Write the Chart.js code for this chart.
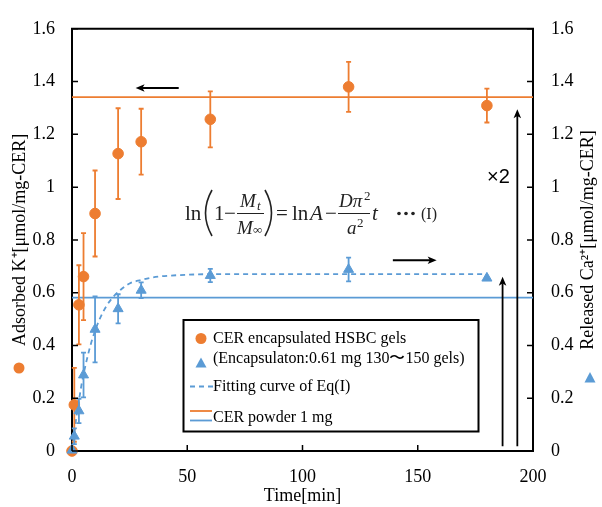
<!DOCTYPE html>
<html><head><meta charset="utf-8">
<script src="https://cdn.jsdelivr.net/npm/chart.js@4"></script>
<style>html,body{margin:0;padding:0;background:#fff}</style>
</head><body>
<canvas id="c" width="602" height="507" style="width:602px;height:507px;display:block"></canvas>
<script>
// ---- data ----
const timeK = [0, 1, 3, 5, 10, 20, 30, 60, 120, 180];
const adsorbedK = [0.0, 0.175, 0.554, 0.661, 0.900, 1.127, 1.172, 1.257, 1.380, 1.309];
const errK = [0, 0.14, 0.15, 0.165, 0.163, 0.172, 0.125, 0.106, 0.095, 0.064];
const timeCa = [0, 1, 3, 5, 10, 20, 30, 60, 120, 180];
const releasedCa = [0.003, 0.056, 0.152, 0.288, 0.461, 0.539, 0.609, 0.665, 0.688, 0.655];
const errCa = [0, 0.03, 0.046, 0.085, 0.125, 0.055, 0.03, 0.025, 0.045, 0];
const fitTime = [0, 1, 2, 3, 4, 5, 6, 8, 10, 12, 15, 18, 21, 25, 30, 35, 40, 50, 60, 80, 100, 120, 150, 180];
const fitCa = [0, 0.07, 0.135, 0.19, 0.245, 0.29, 0.33, 0.40, 0.455, 0.50, 0.55, 0.585, 0.61, 0.635, 0.648, 0.658, 0.663, 0.668, 0.67, 0.67, 0.67, 0.67, 0.67, 0.67];
const powderK = 1.341;
const powderCa = 0.581;
const xRange = [0, 200];
const xTickLabels = ['0', '50', '100', '150', '200'];
const yTickLabels = ['0', '0.2', '0.4', '0.6', '0.8', '1', '1.2', '1.4', '1.6'];
const legendLines = ['CER encapsulated HSBC gels', '(Encapsulaton:0.61 mg 130\u301C150 gels)', 'Fitting curve of Eq(I)', 'CER powder 1 mg'];
const rightTitle = 'Released Ca\u00B2\u207A[\u03BCmol/mg-CER]';

const ORANGE = '#ED7D31', BLUE = '#5B9BD5';
const SERIF = '"Liberation Serif", "Times New Roman", serif';

const pts = (xs, ys) => xs.map((x, i) => ({x: x, y: ys[i]}));

function drawErr(chart, dsIndex, errs, color) {
  const meta = chart.getDatasetMeta(dsIndex);
  const sc = chart.scales[meta.yAxisID];
  const ctx = chart.ctx;
  const data = chart.data.datasets[dsIndex].data;
  ctx.save();
  ctx.strokeStyle = color; ctx.lineWidth = 1.8;
  data.forEach((p, i) => {
    const e = errs[i]; if (!e) return;
    const px = chart.scales.x.getPixelForValue(p.x);
    const yt = sc.getPixelForValue(p.y + e), yb = sc.getPixelForValue(Math.max(0, p.y - e));
    ctx.beginPath();
    ctx.moveTo(px, yt); ctx.lineTo(px, yb);
    ctx.moveTo(px - 2.5, yt); ctx.lineTo(px + 2.5, yt);
    ctx.moveTo(px - 2.5, yb); ctx.lineTo(px + 2.5, yb);
    ctx.stroke();
  });
  ctx.restore();
}

function arrow(ctx, x1, y1, x2, y2, head, w) {
  const a = Math.atan2(y2 - y1, x2 - x1);
  const c = Math.cos(a), s = Math.sin(a);
  ctx.lineWidth = w;
  ctx.beginPath(); ctx.moveTo(x1, y1); ctx.lineTo(x2 - c * head * 0.7, y2 - s * head * 0.7); ctx.stroke();
  const hw = head * 0.42;
  ctx.beginPath();
  ctx.moveTo(x2, y2);
  ctx.lineTo(x2 - c * head - s * hw, y2 - s * head + c * hw);
  ctx.lineTo(x2 - c * head * 0.75, y2 - s * head * 0.75);
  ctx.lineTo(x2 - c * head + s * hw, y2 - s * head - c * hw);
  ctx.closePath(); ctx.fill();
}

const decor = {
  id: 'decor',
  beforeDatasetDraw(chart, args) {
    if (args.index === 0) drawErr(chart, 0, errCa, BLUE);
    if (args.index === 1) drawErr(chart, 1, errK, ORANGE);
  },
  afterDraw(chart) {
    const ctx = chart.ctx, ca = chart.chartArea;
    const xs = chart.scales.x, ys = chart.scales.y, y2 = chart.scales.y2;
    ctx.save();
    // frame top
    ctx.strokeStyle = '#000'; ctx.lineWidth = 2;
    ctx.beginPath(); ctx.moveTo(ca.left - 1, ca.top); ctx.lineTo(ca.right + 1, ca.top); ctx.stroke();
    // inward ticks
    ctx.lineWidth = 1.5;
    ctx.beginPath();
    ys.ticks.forEach(t => { const p = ys.getPixelForValue(t.value); ctx.moveTo(ca.left, p); ctx.lineTo(ca.left + 6, p); });
    y2.ticks.forEach(t => { const p = y2.getPixelForValue(t.value); ctx.moveTo(ca.right, p); ctx.lineTo(ca.right - 6, p); });
    xs.ticks.forEach(t => { const p = xs.getPixelForValue(t.value); ctx.moveTo(p, ca.bottom); ctx.lineTo(p, ca.bottom - 6); });
    ctx.stroke();

    // right axis title, reading bottom-to-top
    ctx.save();
    ctx.translate(588, (ca.top + ca.bottom) / 2);
    ctx.rotate(-Math.PI / 2);
    ctx.fillStyle = '#000'; ctx.font = '18px ' + SERIF; ctx.textAlign = 'center'; ctx.textBaseline = 'middle';
    ctx.fillText(rightTitle, 0, 0);
    ctx.restore();

    // arrows
    ctx.strokeStyle = '#000'; ctx.fillStyle = '#000';
    arrow(ctx, xs.getPixelForValue(46.3), ys.getPixelForValue(1.376), xs.getPixelForValue(27.6), ys.getPixelForValue(1.376), 9, 2);
    arrow(ctx, xs.getPixelForValue(139.2), y2.getPixelForValue(0.723), xs.getPixelForValue(158.2), y2.getPixelForValue(0.723), 9, 2);
    arrow(ctx, xs.getPixelForValue(186.8), y2.getPixelForValue(0.018), xs.getPixelForValue(186.8), y2.getPixelForValue(0.66), 9, 1.8);
    arrow(ctx, xs.getPixelForValue(193.2), ys.getPixelForValue(0.018), xs.getPixelForValue(193.2), ys.getPixelForValue(1.295), 9, 1.8);

    // ×2
    ctx.font = '20px "Liberation Sans", Arial, sans-serif';
    ctx.textBaseline = 'middle'; ctx.textAlign = 'left';
    ctx.fillText('\u00D72', 487, 177);

    // axis-title markers
    ctx.fillStyle = ORANGE;
    ctx.beginPath(); ctx.arc(19, 368, 5.5, 0, Math.PI * 2); ctx.fill();
    ctx.fillStyle = BLUE;
    ctx.beginPath(); ctx.moveTo(590, 372); ctx.lineTo(595.5, 382.5); ctx.lineTo(584.5, 382.5); ctx.closePath(); ctx.fill();

    // equation
    drawEquation(ctx);

    // legend
    const L = 183.5, T = 320, R = 478.5, B = 431.5;
    ctx.fillStyle = '#fff'; ctx.fillRect(L, T, R - L, B - T);
    ctx.strokeStyle = '#000'; ctx.lineWidth = 2; ctx.strokeRect(L, T, R - L, B - T);
    ctx.fillStyle = ORANGE;
    ctx.beginPath(); ctx.arc(201, 338.5, 5.5, 0, Math.PI * 2); ctx.fill();
    ctx.fillStyle = BLUE;
    ctx.beginPath(); ctx.moveTo(201, 357.5); ctx.lineTo(206.5, 367.5); ctx.lineTo(195.5, 367.5); ctx.closePath(); ctx.fill();
    ctx.strokeStyle = BLUE; ctx.lineWidth = 1.8; ctx.setLineDash([5, 4]);
    ctx.beginPath(); ctx.moveTo(190, 386.5); ctx.lineTo(213, 386.5); ctx.stroke();
    ctx.setLineDash([]);
    ctx.strokeStyle = ORANGE; ctx.beginPath(); ctx.moveTo(190, 411); ctx.lineTo(212, 411); ctx.stroke();
    ctx.strokeStyle = BLUE; ctx.beginPath(); ctx.moveTo(190, 420.5); ctx.lineTo(212, 420.5); ctx.stroke();
    ctx.fillStyle = '#000'; ctx.font = '16px ' + SERIF; ctx.textBaseline = 'middle'; ctx.textAlign = 'left';
    ctx.fillText(legendLines[0], 213, 338.5);
    ctx.fillText(legendLines[1], 213, 358.5);
    ctx.fillText(legendLines[2], 213, 386.5);
    ctx.fillText(legendLines[3], 213, 417.5);
    ctx.restore();
  }
};

function drawEquation(ctx) {
  ctx.save();
  ctx.fillStyle = '#222'; ctx.strokeStyle = '#222';
  ctx.textBaseline = 'alphabetic'; ctx.textAlign = 'left';
  const base = 220;
  const up = '21px ' + SERIF, it = 'italic 21px ' + SERIF;
  const fit = 'italic 19px ' + SERIF, sm = 'italic 13px ' + SERIF, smu = '13px ' + SERIF;
  ctx.font = up; ctx.fillText('ln', 185, base);
  // big parentheses
  ctx.lineWidth = 1.6;
  ctx.beginPath(); ctx.moveTo(212, 190); ctx.quadraticCurveTo(199, 213, 212, 236); ctx.stroke();
  ctx.beginPath(); ctx.moveTo(265, 190); ctx.quadraticCurveTo(278, 213, 265, 236); ctx.stroke();
  ctx.font = up; ctx.fillText('1', 214, base);
  ctx.fillText('\u2212', 224, base);
  // fraction Mt / M∞
  ctx.lineWidth = 1; ctx.beginPath(); ctx.moveTo(237, 213.5); ctx.lineTo(264, 213.5); ctx.stroke();
  ctx.font = fit; ctx.fillText('M', 240, 207); ctx.font = sm; ctx.fillText('t', 257, 210);
  ctx.font = fit; ctx.fillText('M', 237, 234); ctx.font = smu; ctx.fillText('\u221E', 253, 234);
  ctx.font = up; ctx.fillText('=', 276, base);
  ctx.fillText('ln', 292, base);
  ctx.font = it; ctx.fillText('A', 310, base);
  ctx.font = up; ctx.fillText('\u2212', 325, base);
  // fraction Dπ² / a²
  ctx.beginPath(); ctx.moveTo(338, 213.5); ctx.lineTo(370, 213.5); ctx.stroke();
  ctx.font = fit; ctx.fillText('D\u03C0', 339, 207); ctx.font = smu; ctx.fillText('2', 364, 200);
  ctx.font = fit; ctx.fillText('a', 347, 234); ctx.font = smu; ctx.fillText('2', 357, 227);
  ctx.font = it; ctx.fillText('t', 372, base);
  // dots
  [399, 406, 413].forEach(x => { ctx.beginPath(); ctx.arc(x, 213.5, 1.8, 0, Math.PI * 2); ctx.fill(); });
  ctx.font = '16px ' + SERIF; ctx.fillText('(I)', 421, 219);
  ctx.restore();
}

const tickFont = {family: SERIF, size: 18};
const titleFont = {family: SERIF, size: 18};

new Chart(document.getElementById('c'), {
  type: 'scatter',
  data: {
    datasets: [
      {label: 'Released Ca', data: pts(timeCa, releasedCa), yAxisID: 'y2', pointStyle: 'triangle', pointRadius: 5.8,
       backgroundColor: BLUE, borderColor: BLUE, borderWidth: 1, showLine: false, order: 0, clip: false},
      {label: 'Adsorbed K', data: pts(timeK, adsorbedK), yAxisID: 'y', pointStyle: 'circle', pointRadius: 5.3,
       backgroundColor: ORANGE, borderColor: ORANGE, borderWidth: 1, showLine: false, order: 1, clip: false},
      {label: 'Fit', data: pts(fitTime, fitCa), yAxisID: 'y2', showLine: true, borderColor: BLUE, borderWidth: 1.8,
       borderDash: [5, 4], pointRadius: 0, cubicInterpolationMode: 'monotone', fill: false, order: 2},
      {label: 'Powder K', data: pts(xRange, [powderK, powderK]), yAxisID: 'y', showLine: true, borderColor: ORANGE,
       borderWidth: 1.8, pointRadius: 0, order: 3},
      {label: 'Powder Ca', data: pts(xRange, [powderCa, powderCa]), yAxisID: 'y2', showLine: true, borderColor: BLUE,
       borderWidth: 1.8, pointRadius: 0, order: 4}
    ]
  },
  options: {
    responsive: false, animation: false, devicePixelRatio: 1,
    layout: {padding: {top: 19, right: 0, bottom: 0, left: 0}},
    plugins: {legend: {display: false}, tooltip: {enabled: false}},
    scales: {
      x: {type: 'linear', position: 'bottom', min: 0, max: 200,
          ticks: {stepSize: 50, callback: (v, i) => xTickLabels[i], color: '#000', font: tickFont, padding: 15, maxRotation: 0},
          grid: {drawOnChartArea: false, drawTicks: false}, border: {color: '#000', width: 2},
          title: {display: true, text: 'Time[min]', color: '#000', font: titleFont, padding: {top: 0, bottom: 0}},
          afterFit: s => { s.height = 56; }},
      y: {type: 'linear', position: 'left', min: 0, max: 1.6,
          ticks: {stepSize: 0.2, callback: (v, i) => yTickLabels[i], color: '#000', font: tickFont, padding: 17},
          grid: {drawOnChartArea: false, drawTicks: false}, border: {color: '#000', width: 2},
          title: {display: true, text: 'Adsorbed K\u207A[\u03BCmol/mg-CER]', color: '#000', font: titleFont, padding: {top: 9, bottom: 0}},
          afterFit: s => { s.width = 72; }},
      y2: {type: 'linear', position: 'right', min: 0, max: 1.6,
          ticks: {stepSize: 0.2, callback: (v, i) => yTickLabels[i], color: '#000', font: tickFont, padding: 18},
          grid: {drawOnChartArea: false, drawTicks: false}, border: {color: '#000', width: 2},
          title: {display: false},
          afterFit: s => { s.width = 69; }}
    }
  },
  plugins: [decor]
});
</script>
</body></html>
